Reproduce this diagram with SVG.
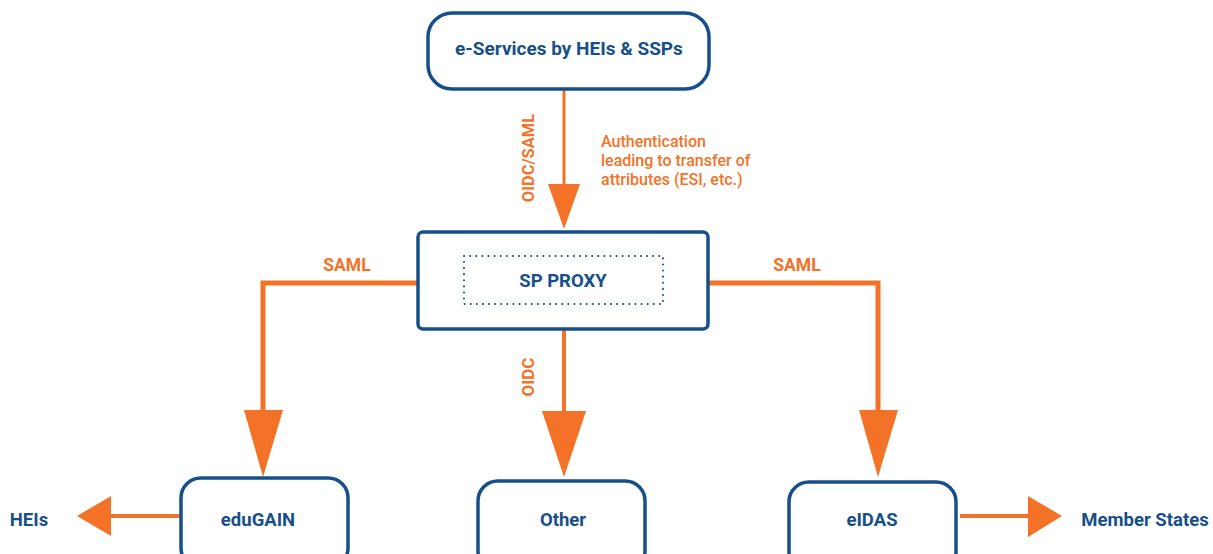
<svg xmlns="http://www.w3.org/2000/svg" width="1213" height="554" viewBox="0 0 1213 554">
<style>
.box{fill:#fff;stroke:#174f8a;stroke-width:3.5}
.lbl{font-family:Roboto,"Liberation Sans",sans-serif;font-weight:bold;fill:#174f8a;text-anchor:middle;dominant-baseline:central}
.ol{font-family:Roboto,"Liberation Sans",sans-serif;font-weight:bold;fill:#f47227;font-size:16.5px}
.ln{stroke:#f47227;fill:none}
.hd{fill:#f47227}
</style>
<g id="connectors">
<line class="ln" x1="564" y1="90" x2="564" y2="186" stroke-width="3"/>
<polygon class="hd" points="548,184 580,184 564,229"/>
<polyline class="ln" points="417,283 263,283 263,412" stroke-width="5"/>
<polygon class="hd" points="244,410 283,410 263,477"/>
<polyline class="ln" points="709,283 878,283 878,412" stroke-width="5"/>
<polygon class="hd" points="859,410 898,410 878,477"/>
<line class="ln" x1="564" y1="330" x2="564" y2="413" stroke-width="4"/>
<polygon class="hd" points="542,411 586,411 564,477"/>
<line class="ln" x1="180" y1="516" x2="108" y2="516" stroke-width="4"/>
<polygon class="hd" points="111,496 111,536 77,516"/>
<line class="ln" x1="960" y1="516" x2="1030" y2="516" stroke-width="4"/>
<polygon class="hd" points="1028,496 1028,537 1062,516"/>
<text class="ol" transform="translate(528,158) rotate(-90)" text-anchor="middle" dominant-baseline="central" font-size="16">OIDC/SAML</text>
<text class="ol" transform="translate(528,377) rotate(-90)" text-anchor="middle" dominant-baseline="central" style="font-size:17px">OIDC</text>
<text class="ol" x="347" y="265" text-anchor="middle" dominant-baseline="central" style="font-size:17.5px">SAML</text>
<text class="ol" x="797" y="265" text-anchor="middle" dominant-baseline="central" style="font-size:17.5px">SAML</text>
<text class="ol" style="font-weight:500;font-size:16px">
<tspan x="601" y="147">Authentication</tspan>
<tspan x="601" y="166">leading to transfer of</tspan>
<tspan x="601" y="185">attributes (ESI, etc.)</tspan>
</text>
</g>
<g id="eservices">
<rect class="box" x="428" y="13" width="281" height="76" rx="24" stroke-width="4.5"/>
<text class="lbl" x="569" y="48" font-size="19">e-Services by HEIs &amp; SSPs</text>
</g>
<g id="spproxy">
<rect class="box" x="418" y="232" width="290" height="97" rx="5" stroke-width="5"/>
<rect x="464" y="256" width="199" height="48" fill="none" stroke="#174f8a" stroke-width="2" stroke-dasharray="0.1 6" stroke-linecap="round"/>
<text class="lbl" x="563" y="281" font-size="18.5">SP PROXY</text>
</g>
<g id="edugain">
<rect class="box" x="181" y="478" width="167" height="90" rx="20"/>
<text class="lbl" x="258" y="520" font-size="18.5">eduGAIN</text>
</g>
<g id="other">
<rect class="box" x="478" y="481" width="167" height="90" rx="20"/>
<text class="lbl" x="563" y="520" font-size="18.5">Other</text>
</g>
<g id="eidas">
<rect class="box" x="789" y="482" width="167" height="90" rx="20"/>
<text class="lbl" x="872" y="520" font-size="18.5">eIDAS</text>
</g>
<g id="heis">
<text class="lbl" x="29" y="520" font-size="18.5">HEIs</text>
</g>
<g id="memberstates">
<text class="lbl" x="1145" y="520" font-size="18.5">Member States</text>
</g>
</svg>
